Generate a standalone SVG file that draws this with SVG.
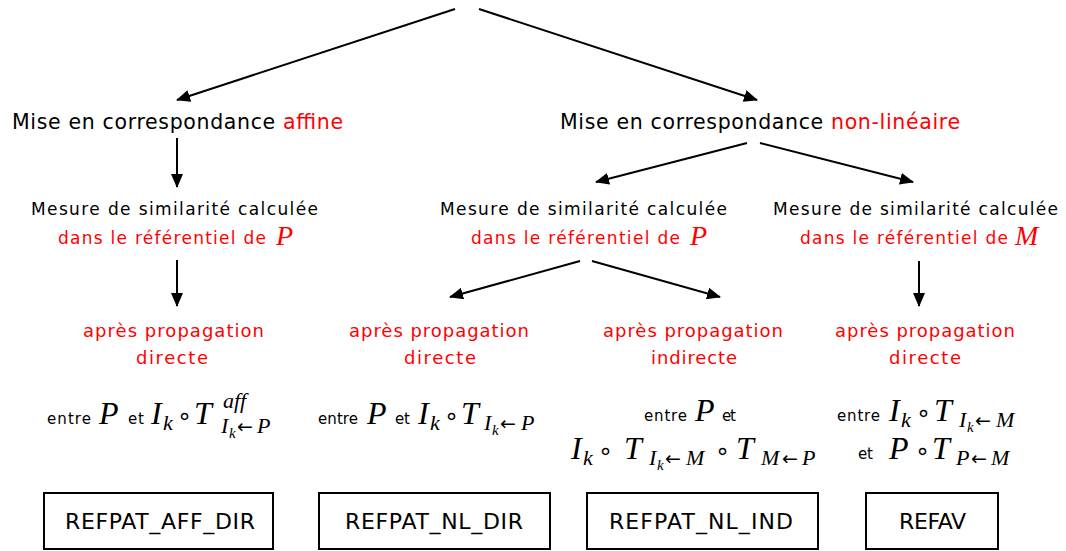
<svg xmlns="http://www.w3.org/2000/svg" width="1066" height="551" viewBox="0 0 1066 551">
<style>
.lbl{font-family:"DejaVu Sans",sans-serif;fill:#000;}
.big{font-size:20.5px;}
.mid{font-size:17px;}
.red{fill:#ff0000;}
.prop{font-size:18px;fill:#ff0000;}
.sm{font-family:"DejaVu Sans",sans-serif;font-size:15px;fill:#000;}
.m{font-family:"Liberation Serif",serif;font-style:italic;font-size:32px;fill:#000;}
.mr{font-family:"Liberation Serif",serif;font-style:italic;font-size:28px;fill:#ff0000;}
.ms{font-family:"Liberation Serif",serif;font-style:italic;font-size:22px;fill:#000;}
.mss{font-family:"Liberation Serif",serif;font-style:italic;font-size:15px;fill:#000;}
.op{font-family:"DejaVu Sans",sans-serif;font-size:24px;fill:#000;}
.ar{font-family:"DejaVu Sans",sans-serif;font-size:19px;fill:#000;}
.box{fill:#fff;stroke:#000;stroke-width:2;}
.bt{font-family:"DejaVu Sans",sans-serif;font-size:22px;fill:#000;}
.c{fill:none;stroke:#000;stroke-width:2;marker-end:url(#ah);}
</style>
<defs>
<marker id="ah" viewBox="0 0 14 12" refX="13" refY="6" markerWidth="14" markerHeight="12" markerUnits="userSpaceOnUse" orient="auto">
<path d="M0,0 L14,6 L0,12 Z" fill="#000"/>
</marker>
</defs>
<g id="connectors">
<line class="c" x1="455" y1="9" x2="177" y2="100"/>
<line class="c" x1="479" y1="9" x2="757" y2="100"/>
<line class="c" x1="177" y1="138" x2="177" y2="187"/>
<line class="c" x1="177" y1="260" x2="177" y2="306"/>
<line class="c" x1="747" y1="143" x2="596" y2="182"/>
<line class="c" x1="760" y1="143" x2="913" y2="182"/>
<line class="c" x1="580" y1="261" x2="450" y2="297"/>
<line class="c" x1="592" y1="261" x2="720" y2="297"/>
<line class="c" x1="919" y1="261" x2="919" y2="306"/>
</g>
<g id="n-affine">
<text class="lbl big" x="12" y="129" textLength="331">Mise en correspondance <tspan class="red">affine</tspan></text>
</g>
<g id="n-nonlin">
<text class="lbl big" x="560" y="129" textLength="400">Mise en correspondance <tspan class="red">non-linéaire</tspan></text>
</g>
<g id="n-mes-aff">
<text class="lbl mid" x="31" y="215" textLength="287">Mesure de similarité calculée</text>
<text class="lbl mid red" x="58" y="244" textLength="208">dans le référentiel de</text>
<text class="mr" x="276" y="245">P</text>
</g>
<g id="n-mes-nlp">
<text class="lbl mid" x="440" y="215" textLength="287">Mesure de similarité calculée</text>
<text class="lbl mid red" x="471" y="244" textLength="209">dans le référentiel de</text>
<text class="mr" x="690" y="245">P</text>
</g>
<g id="n-mes-nlm">
<text class="lbl mid" x="773" y="215" textLength="285">Mesure de similarité calculée</text>
<text class="lbl mid red" x="800" y="244" textLength="208">dans le référentiel de</text>
<text class="mr" x="1015" y="245">M</text>
</g>
<g id="n-prop1">
<text class="lbl prop" x="83" y="337" textLength="181">après propagation</text>
<text class="lbl prop" x="136" y="364" textLength="72">directe</text>
</g>
<g id="n-prop2">
<text class="lbl prop" x="349" y="337" textLength="180">après propagation</text>
<text class="lbl prop" x="404" y="364" textLength="72">directe</text>
</g>
<g id="n-prop3">
<text class="lbl prop" x="603" y="337" textLength="180">après propagation</text>
<text class="lbl prop" x="651" y="364" textLength="86">indirecte</text>
</g>
<g id="n-prop4">
<text class="lbl prop" x="835" y="337" textLength="180">après propagation</text>
<text class="lbl prop" x="889" y="364" textLength="72">directe</text>
</g>
<g id="n-f1">
<text class="sm" x="47" y="424" textLength="44">entre</text>
<text class="m" x="99" y="424">P</text>
<text class="sm" x="128" y="424" textLength="16">et</text>
<text class="m" x="151" y="424">I</text>
<text class="ms" x="163" y="430">k</text>
<text class="op" x="177" y="424">∘</text>
<text class="m" x="194" y="424">T</text>
<text class="ms" x="223" y="408">aff</text>
<text class="ms" x="221" y="433">I</text>
<text class="mss" x="229" y="438">k</text>
<text class="ar" x="237" y="433">←</text>
<text class="ms" x="257" y="433">P</text>
</g>
<g id="n-f2">
<text class="sm" x="318" y="424" textLength="40">entre</text>
<text class="m" x="367" y="424">P</text>
<text class="sm" x="395" y="424" textLength="15">et</text>
<text class="m" x="418" y="424">I</text>
<text class="ms" x="430" y="430">k</text>
<text class="op" x="444" y="424">∘</text>
<text class="m" x="461" y="424">T</text>
<text class="ms" x="484" y="430">I</text>
<text class="mss" x="492" y="435">k</text>
<text class="ar" x="500" y="430">←</text>
<text class="ms" x="521" y="430">P</text>
</g>
<g id="n-f3">
<text class="sm" x="644" y="421" textLength="43">entre</text>
<text class="m" x="695" y="421">P</text>
<text class="sm" x="722" y="421" textLength="14">et</text>
<text class="m" x="571" y="459">I</text>
<text class="ms" x="583" y="465">k</text>
<text class="op" x="598" y="459">∘</text>
<text class="m" x="624" y="459">T</text>
<text class="ms" x="649" y="465">I</text>
<text class="mss" x="657" y="470">k</text>
<text class="ar" x="665" y="465">←</text>
<text class="ms" x="686" y="465">M</text>
<text class="op" x="715" y="459">∘</text>
<text class="m" x="736" y="459">T</text>
<text class="ms" x="761" y="465">M</text>
<text class="ar" x="782" y="465">←</text>
<text class="ms" x="802" y="465">P</text>
</g>
<g id="n-f4">
<text class="sm" x="837" y="421" textLength="43">entre</text>
<text class="m" x="889" y="421">I</text>
<text class="ms" x="901" y="427">k</text>
<text class="op" x="916" y="421">∘</text>
<text class="m" x="934" y="421">T</text>
<text class="ms" x="959" y="427">I</text>
<text class="mss" x="967" y="432">k</text>
<text class="ar" x="975" y="427">←</text>
<text class="ms" x="996" y="427">M</text>
<text class="sm" x="858" y="459" textLength="15">et</text>
<text class="m" x="889" y="459">P</text>
<text class="op" x="915" y="459">∘</text>
<text class="m" x="932" y="459">T</text>
<text class="ms" x="956" y="465">P</text>
<text class="ar" x="971" y="465">←</text>
<text class="ms" x="991" y="465">M</text>
</g>
<g id="n-box1">
<rect class="box" x="44" y="493" width="229" height="56"/>
<text class="bt" x="65" y="529" textLength="190">REFPAT_AFF_DIR</text>
</g>
<g id="n-box2">
<rect class="box" x="319" y="493" width="231" height="56"/>
<text class="bt" x="345" y="529" textLength="178">REFPAT_NL_DIR</text>
</g>
<g id="n-box3">
<rect class="box" x="587" y="493" width="231" height="56"/>
<text class="bt" x="609" y="529" textLength="184">REFPAT_NL_IND</text>
</g>
<g id="n-box4">
<rect class="box" x="866" y="493" width="132" height="56"/>
<text class="bt" x="899" y="529" textLength="67">REFAV</text>
</g>
</svg>
